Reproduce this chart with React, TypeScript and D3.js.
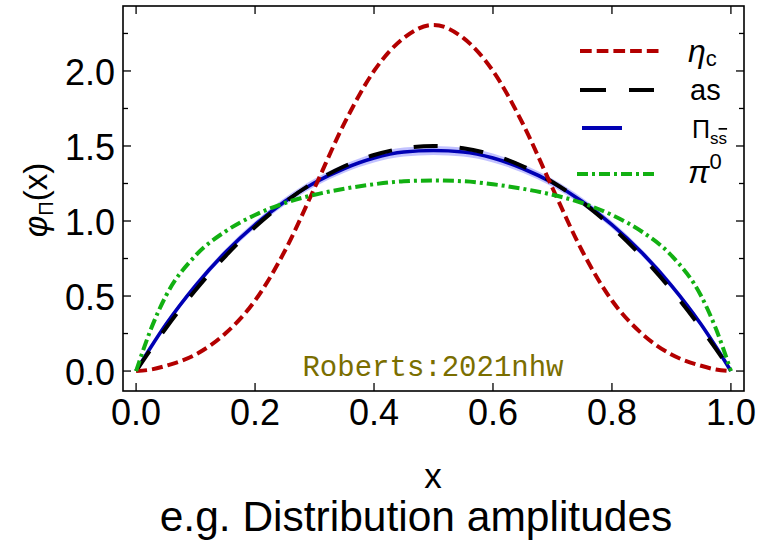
import React from "react";
import * as d3 from "d3";

const xs = [0, 0.025, 0.05, 0.1, 0.15, 0.2, 0.25, 0.3, 0.35, 0.4, 0.45, 0.5, 0.55, 0.6, 0.65, 0.7, 0.75, 0.8, 0.85, 0.9, 0.95, 0.975, 1];
const etaC = [0, 0.01, 0.035, 0.11, 0.25, 0.47, 0.8, 1.22, 1.65, 2.0, 2.22, 2.307, 2.22, 2.0, 1.65, 1.22, 0.8, 0.47, 0.25, 0.11, 0.035, 0.01, 0];
const asy = [0, 0.146, 0.285, 0.54, 0.765, 0.96, 1.125, 1.26, 1.365, 1.44, 1.485, 1.5, 1.485, 1.44, 1.365, 1.26, 1.125, 0.96, 0.765, 0.54, 0.285, 0.146, 0];
const piSS = [0, 0.16, 0.31, 0.57, 0.79, 0.975, 1.13, 1.255, 1.35, 1.42, 1.46, 1.47, 1.46, 1.42, 1.35, 1.255, 1.13, 0.975, 0.79, 0.57, 0.31, 0.16, 0];
const piSSLo = [0, 0.15, 0.295, 0.55, 0.768, 0.952, 1.105, 1.228, 1.322, 1.39, 1.43, 1.44, 1.43, 1.39, 1.322, 1.228, 1.105, 0.952, 0.768, 0.55, 0.295, 0.15, 0];
const piSSHi = [0, 0.17, 0.325, 0.59, 0.812, 0.998, 1.155, 1.282, 1.378, 1.45, 1.49, 1.5, 1.49, 1.45, 1.378, 1.282, 1.155, 0.998, 0.812, 0.59, 0.325, 0.17, 0];
const pi0 = [0, 0.28, 0.5, 0.77, 0.93, 1.04, 1.12, 1.175, 1.215, 1.245, 1.265, 1.27, 1.265, 1.245, 1.215, 1.175, 1.12, 1.04, 0.93, 0.77, 0.5, 0.28, 0];

const xTicks = [0, 0.2, 0.4, 0.6, 0.8, 1.0];
const yMajor = [0, 0.5, 1.0, 1.5, 2.0];
const yMinor = [0.25, 0.75, 1.25, 1.75, 2.25];

const W = 774, H = 546;
const L = 123, R = 744, T = 6, B = 391;

export default function App() {
  const x = d3.scaleLinear().domain([-0.022, 1.022]).range([L, R]);
  const y = d3.scaleLinear().domain([-0.133, 2.433]).range([B, T]);
  const line = (vals: number[]) =>
    d3.line<number>().x((_, i) => x(xs[i])).y((d) => y(d)).curve(d3.curveMonotoneX)(vals) || "";
  const band = d3
    .area<number>()
    .x((_, i) => x(xs[i]))
    .y0((_, i) => y(piSSLo[i]))
    .y1((_, i) => y(piSSHi[i]))
    .curve(d3.curveMonotoneX)(xs) || "";

  const font = "'Liberation Sans', Arial, sans-serif";
  const red = "#b30000", blue = "#0000b4", green = "#12b012";

  return (
    <svg width={W} height={H} style={{ position: "absolute", left: 0, top: 0, background: "#fff" }} fontFamily={font}>
      <defs>
        <clipPath id="clip"><rect x={L} y={T} width={R - L} height={B - T} /></clipPath>
      </defs>
      <g clipPath="url(#clip)">
        <path d={band} fill="rgb(120,120,255)" fillOpacity={0.45} />
        <path d={line(piSS)} fill="none" stroke={blue} strokeWidth={3.6} />
        <path d={line(asy)} fill="none" stroke="#000" strokeWidth={4} strokeDasharray="24,22" />
        <path d={line(etaC)} fill="none" stroke={red} strokeWidth={4} strokeDasharray="11,5" />
        <path d={line(pi0)} fill="none" stroke={green} strokeWidth={4} strokeDasharray="11,4,3,4" />
      </g>
      {/* frame */}
      <rect x={L} y={T} width={R - L} height={B - T} fill="none" stroke="#000" strokeWidth={1.6} />
      {/* x ticks */}
      {xTicks.map((t) => (
        <g key={"x" + t}>
          <line x1={x(t)} x2={x(t)} y1={B} y2={B - 8} stroke="#000" strokeWidth={1.3} />
          <line x1={x(t)} x2={x(t)} y1={T} y2={T + 8} stroke="#000" strokeWidth={1.3} />
          <text x={x(t)} y={425} textAnchor="middle" fontSize={36}>{t.toFixed(1)}</text>
        </g>
      ))}
      {yMajor.map((t) => (
        <g key={"y" + t}>
          <line x1={L} x2={L + 8} y1={y(t)} y2={y(t)} stroke="#000" strokeWidth={1.3} />
          <line x1={R} x2={R - 8} y1={y(t)} y2={y(t)} stroke="#000" strokeWidth={1.3} />
          <text x={115} y={y(t)} dy="0.38em" textAnchor="end" fontSize={36}>{t.toFixed(1)}</text>
        </g>
      ))}
      {yMinor.map((t) => (
        <g key={"ym" + t}>
          <line x1={L} x2={L + 5} y1={y(t)} y2={y(t)} stroke="#000" strokeWidth={1.3} />
          <line x1={R} x2={R - 5} y1={y(t)} y2={y(t)} stroke="#000" strokeWidth={1.3} />
        </g>
      ))}
      {/* axis labels */}
      <text x={433} y={488} textAnchor="middle" fontSize={35}>x</text>
      <text x={416} y={531} textAnchor="middle" fontSize={42.5}>e.g. Distribution amplitudes</text>
      <text transform="translate(47,200) rotate(-90)" textAnchor="middle" fontSize={33}>
        <tspan fontStyle="italic">φ</tspan>
        <tspan fontSize={20} dy={6}>Π</tspan>
        <tspan dy={-6}>(x)</tspan>
      </text>
      {/* annotation */}
      <text x={433} y={376} textAnchor="middle" fontSize={29} fill="#7a6e00" fontFamily="'Liberation Mono', monospace">Roberts:2021nhw</text>
      {/* legend */}
      <line x1={580} x2={659} y1={51} y2={51} stroke={red} strokeWidth={4} strokeDasharray="11.7,5" />
      <line x1={580} x2={654} y1={90} y2={90} stroke="#000" strokeWidth={4} strokeDasharray="26,23" />
      <line x1={582} x2={622} y1={128} y2={128} stroke={blue} strokeWidth={4} />
      <line x1={577} x2={654} y1={174} y2={174} stroke={green} strokeWidth={4} strokeDasharray="11,4,3,4" />
      <text x={688} y={62} fontSize={32}>
        <tspan fontStyle="italic">η</tspan>
        <tspan fontSize={22} dy={4}>c</tspan>
      </text>
      <text x={690} y={100} fontSize={29}>as</text>
      <text x={692} y={138} fontSize={25}>
        <tspan>Π</tspan>
        <tspan fontSize={17} dy={6}>s</tspan>
        <tspan fontSize={17} textDecoration="overline">s</tspan>
      </text>
      <text x={688} y={183} fontSize={32}>
        <tspan fontStyle="italic">π</tspan>
        <tspan fontSize={22} dy={-14}>0</tspan>
      </text>
    </svg>
  );
}
